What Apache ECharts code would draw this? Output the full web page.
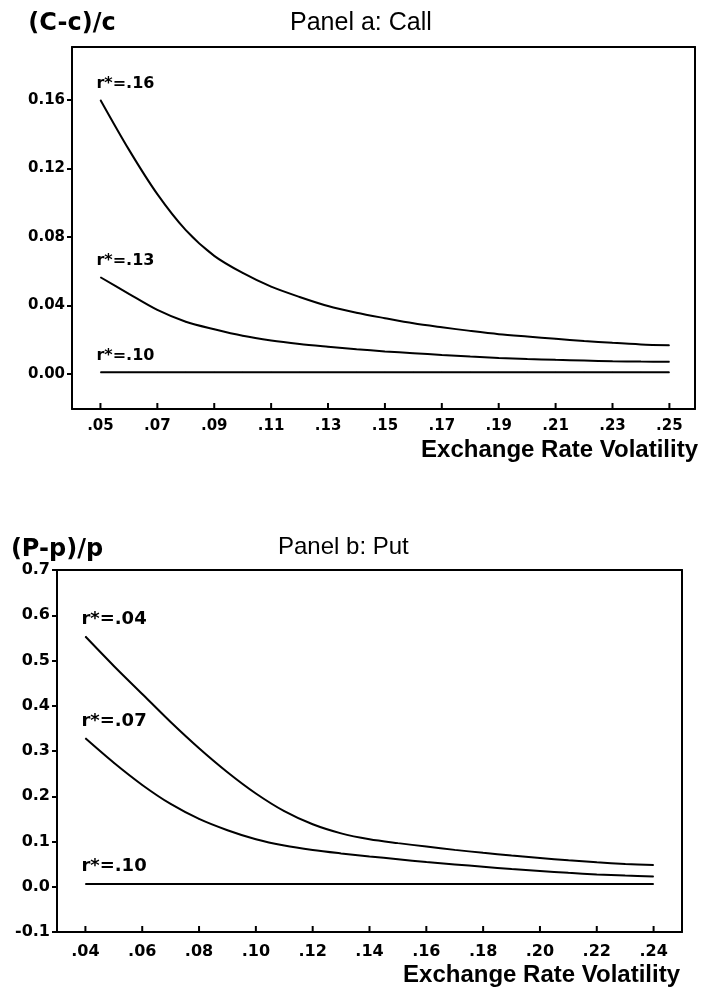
<!DOCTYPE html>
<html>
<head>
<meta charset="utf-8">
<script src="https://cdn.jsdelivr.net/npm/echarts@6/dist/echarts.min.js"></script>
<style>
  html, body { margin: 0; padding: 0; background: #fff; }
  #chart { width: 701px; height: 990px; }
</style>
</head>
<body>
<div id="chart"></div>
<script>
// Panel a: call, relative mispricing vs exchange rate volatility
const callVol = [0.05, 0.06, 0.07, 0.08, 0.09, 0.10, 0.11, 0.12, 0.13, 0.14, 0.15,
  0.16, 0.17, 0.18, 0.19, 0.20, 0.21, 0.22, 0.23, 0.24, 0.25];
const callR16 = [0.160, 0.131, 0.105, 0.084, 0.069, 0.059, 0.051, 0.045, 0.0397, 0.0358, 0.0326,
  0.0296, 0.0273, 0.0252, 0.0233, 0.0219, 0.0206, 0.0193, 0.0182, 0.0173, 0.0168];
const callR13 = [0.0565, 0.0468, 0.0374, 0.0305, 0.0261, 0.0223, 0.0196, 0.0176, 0.0160, 0.0145, 0.0132,
  0.0122, 0.0111, 0.0102, 0.0094, 0.0088, 0.0083, 0.0079, 0.0075, 0.0073, 0.0072];
const callR10 = [0.001, 0.001, 0.001, 0.001, 0.001, 0.001, 0.001, 0.001, 0.001, 0.001, 0.001,
  0.001, 0.001, 0.001, 0.001, 0.001, 0.001, 0.001, 0.001, 0.001, 0.001];
const callXTicks = [0.05, 0.07, 0.09, 0.11, 0.13, 0.15, 0.17, 0.19, 0.21, 0.23, 0.25];
const callYTicks = [0, 0.04, 0.08, 0.12, 0.16];
const callYMin = -0.0204;
const callYMax = 0.1909;

// Panel b: put
const putVol = [0.04, 0.05, 0.06, 0.07, 0.08, 0.09, 0.10, 0.11, 0.12, 0.13, 0.14,
  0.15, 0.16, 0.17, 0.18, 0.19, 0.20, 0.21, 0.22, 0.23, 0.24];
const putR04 = [0.553, 0.488, 0.426, 0.364, 0.306, 0.253, 0.206, 0.167, 0.138, 0.118, 0.105,
  0.0964, 0.0888, 0.0815, 0.075, 0.069, 0.0636, 0.0584, 0.0540, 0.0504, 0.048];
const putR07 = [0.328, 0.274, 0.225, 0.183, 0.150, 0.125, 0.105, 0.091, 0.0812, 0.0737, 0.067,
  0.0608, 0.0546, 0.0494, 0.0441, 0.039, 0.0347, 0.0307, 0.0272, 0.0247, 0.0226];
const putR10 = [0.006, 0.006, 0.006, 0.006, 0.006, 0.006, 0.006, 0.006, 0.006, 0.006, 0.006,
  0.006, 0.006, 0.006, 0.006, 0.006, 0.006, 0.006, 0.006, 0.006, 0.006];
const putXTicks = [0.04, 0.06, 0.08, 0.10, 0.12, 0.14, 0.16, 0.18, 0.20, 0.22, 0.24];
const putYTicks = [-0.1, 0, 0.1, 0.2, 0.3, 0.4, 0.5, 0.6, 0.7];
const putYMin = -0.1;
const putYMax = 0.7;

const tickFont = 'DejaVu Sans';
const nameFont = 'Liberation Sans';

const chart = echarts.init(document.getElementById('chart'));

const pairs = (xs, ys) => xs.map((x, i) => [x, ys[i]]);
const blackLine = { color: '#000', width: 2 };

function curve(name, xs, ys, gridIdx, fontSize) {
  return {
    name: name,
    type: 'line',
    xAxisIndex: gridIdx * 2,
    yAxisIndex: gridIdx * 2,
    data: pairs(xs, ys),
    smooth: 0.3,
    symbol: 'circle',
    symbolSize: 1,
    showSymbol: true,
    itemStyle: { color: '#000' },
    lineStyle: { color: '#000', width: 2 },
    label: {
      show: true,
      position: 'top',
      align: 'left',
      offset: [-4, 0],
      distance: 8,
      color: '#000',
      fontFamily: tickFont,
      fontWeight: 'bold',
      fontSize: fontSize,
      formatter: (p) => (p.dataIndex === 0 ? p.seriesName : '')
    },
    emphasis: { disabled: true }
  };
}

// short upward tick marks on the bottom axis, placed through the axis scales
function bottomTicks(gridIdx, ticks, yMin) {
  return {
    type: 'custom',
    xAxisIndex: gridIdx * 2,
    yAxisIndex: gridIdx * 2,
    data: ticks.map((v) => [v, yMin]),
    clip: false,
    silent: true,
    z: 5,
    renderItem: (params, api) => {
      const p = api.coord([api.value(0), api.value(1)]);
      return {
        type: 'line',
        shape: { x1: p[0], y1: p[1], x2: p[0], y2: p[1] - 6 },
        style: { stroke: '#000', lineWidth: 2 }
      };
    }
  };
}

function xAxisOf(gridIdx, min, max, ticks, fontSize, margin) {
  return {
    type: 'value',
    gridIndex: gridIdx,
    position: 'bottom',
    min: min,
    max: max,
    axisLine: { show: true, onZero: false, lineStyle: blackLine },
    axisTick: { show: false },
    axisLabel: {
      customValues: ticks,
      color: '#000',
      fontFamily: tickFont,
      fontWeight: 'bold',
      fontSize: fontSize,
      margin: margin,
      formatter: (v) => v.toFixed(2).replace(/^0/, '')
    },
    splitLine: { show: false }
  };
}

function yAxisOf(gridIdx, min, max, ticks, decimals, fontSize, name, nameGap) {
  return {
    type: 'value',
    gridIndex: gridIdx,
    position: 'left',
    min: min,
    max: max,
    name: name,
    nameLocation: 'end',
    nameGap: nameGap,
    nameTextStyle: { color: '#000', fontFamily: tickFont, fontWeight: 'bold', fontSize: 24 },
    axisLine: { show: true, onZero: false, lineStyle: blackLine },
    axisTick: { show: true, length: 5, lineStyle: blackLine, customValues: ticks },
    axisLabel: {
      customValues: ticks,
      color: '#000',
      fontFamily: tickFont,
      fontWeight: 'bold',
      fontSize: fontSize,
      margin: 7,
      formatter: (v) => v.toFixed(decimals)
    },
    splitLine: { show: false }
  };
}

// plain frame edges (top and right) of each panel
function frameAxis(gridIdx, position, min, max) {
  return {
    type: 'value',
    gridIndex: gridIdx,
    position: position,
    min: min,
    max: max,
    axisLine: { show: true, onZero: false, lineStyle: blackLine },
    axisTick: { show: false },
    axisLabel: { show: false },
    splitLine: { show: false }
  };
}

const option = {
  backgroundColor: '#fff',
  animation: false,
  title: [
    { text: 'Panel a: Call', left: 290, top: 11, padding: 0,
      textStyle: { color: '#000', fontFamily: nameFont, fontWeight: 'normal', fontSize: 25 } },
    { text: 'Exchange Rate Volatility', right: 3, top: 438, padding: 0,
      textStyle: { color: '#000', fontFamily: nameFont, fontWeight: 'bold', fontSize: 24 } },
    { text: 'Panel b: Put', left: 278, top: 535, padding: 0,
      textStyle: { color: '#000', fontFamily: nameFont, fontWeight: 'normal', fontSize: 24 } },
    { text: 'Exchange Rate Volatility', right: 21, top: 963, padding: 0,
      textStyle: { color: '#000', fontFamily: nameFont, fontWeight: 'bold', fontSize: 24 } }
  ],
  grid: [
    { left: 72, top: 47, width: 623, height: 362 },
    { left: 57, top: 570, width: 625, height: 362 }
  ],
  xAxis: [
    xAxisOf(0, 0.04, 0.259, callXTicks, 15, 10),
    frameAxis(0, 'top', 0.04, 0.259),
    xAxisOf(1, 0.03, 0.25, putXTicks, 16, 12),
    frameAxis(1, 'top', 0.03, 0.25)
  ],
  yAxis: [
    yAxisOf(0, callYMin, callYMax, callYTicks, 2, 15, '(C-c)/c', 11),
    frameAxis(0, 'right', callYMin, callYMax),
    yAxisOf(1, putYMin, putYMax, putYTicks, 1, 16, '(P-p)/p', 7),
    frameAxis(1, 'right', putYMin, putYMax)
  ],
  series: [
    curve('r*=.16', callVol, callR16, 0, 16),
    curve('r*=.13', callVol, callR13, 0, 16),
    curve('r*=.10', callVol, callR10, 0, 16),
    bottomTicks(0, callXTicks, callYMin),
    curve('r*=.04', putVol, putR04, 1, 18),
    curve('r*=.07', putVol, putR07, 1, 18),
    curve('r*=.10', putVol, putR10, 1, 18),
    bottomTicks(1, putXTicks, putYMin)
  ]
};

chart.setOption(option);
</script>
</body>
</html>
